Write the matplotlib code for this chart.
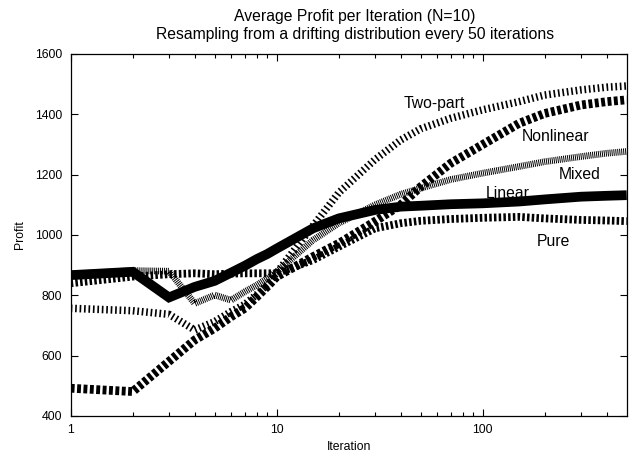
import matplotlib
matplotlib.use("Agg")
import matplotlib.pyplot as plt
from matplotlib.ticker import FixedLocator, NullFormatter, FixedFormatter

plt.rcParams['font.family'] = ['Liberation Sans', 'DejaVu Sans']
plt.rcParams['lines.scale_dashes'] = False

iterations = [1, 2, 3, 4, 5, 6, 7, 8, 9, 10, 15, 20, 30, 40, 50, 70, 100, 150, 200, 300, 400, 500]

linear = [867, 878, 793, 828, 848, 875, 898, 920, 937, 955, 1022, 1055, 1083, 1094, 1097, 1102, 1105, 1111, 1118, 1127, 1130, 1132]
nonlinear = [492, 481, 581, 652, 691, 729, 757, 795, 829, 862, 928, 972, 1045, 1100, 1160, 1238, 1300, 1370, 1403, 1431, 1442, 1448]
two_part = [757, 749, 737, 685, 713, 746, 770, 803, 836, 875, 1030, 1140, 1250, 1315, 1352, 1387, 1415, 1442, 1464, 1481, 1490, 1494]
mixed = [870, 882, 880, 773, 801, 784, 812, 834, 856, 878, 983, 1039, 1100, 1135, 1155, 1184, 1205, 1227, 1243, 1260, 1271, 1277]
pure = [840, 862, 870, 873, 870, 872, 873, 873, 873, 873, 917, 961, 1022, 1039, 1047, 1053, 1057, 1060, 1055, 1050, 1048, 1046]

series_names = ["Pure", "Two-part", "Mixed", "Nonlinear", "Linear"]
label_pos = {
    "Two-part": (58, 1436),
    "Nonlinear": (225, 1326),
    "Mixed": (294, 1199),
    "Linear": (133, 1136),
    "Pure": (220, 978),
}

title_lines = ["Average Profit per Iteration (N=10)",
               "Resampling from a drifting distribution every 50 iterations"]
x_label = "Iteration"
y_label = "Profit"
y_ticks = [400, 600, 800, 1000, 1200, 1400, 1600]
x_major = [1, 10, 100]

W, H = 639, 459
fig = plt.figure(figsize=(W / 100, H / 100), dpi=100)
ax = fig.add_axes([70.7 / W, 1 - 416 / H, (626.7 - 70.7) / W, (416 - 54) / H])

styles = {
    "Pure": dict(lw=5.6, dashes=(1.8, 1.6)),
    "Two-part": dict(lw=5.4, dashes=(1.2, 2.0)),
    "Mixed": dict(lw=4.8, dashes=(0.7, 0.7)),
    "Nonlinear": dict(lw=6.3, dashes=(2.8, 1.8)),
    "Linear": dict(lw=7.0),
}
data = {"Pure": pure, "Two-part": two_part, "Mixed": mixed,
        "Nonlinear": nonlinear, "Linear": linear}

for name in series_names:
    st = styles[name]
    kw = dict(color='black', lw=st['lw'], solid_capstyle='butt', dash_capstyle='butt',
              solid_joinstyle='miter')
    if 'dashes' in st:
        kw['dashes'] = st['dashes']
    ax.plot(iterations, data[name], **kw)

for name, (lx, ly) in label_pos.items():
    ax.text(lx, ly, name, ha='center', va='center', fontsize=11.3, color='black')

ax.set_xscale('log')
ax.set_xlim(1, 500)
ax.set_ylim(400, 1600)
ax.xaxis.set_major_locator(FixedLocator(x_major))
ax.xaxis.set_major_formatter(FixedFormatter([str(v) for v in x_major]))
minor = [m * d for d in (1, 10, 100) for m in range(2, 10) if m * d < 500]
ax.xaxis.set_minor_locator(FixedLocator(minor))
ax.xaxis.set_minor_formatter(NullFormatter())
ax.set_yticks(y_ticks)
ax.set_yticklabels([str(v) for v in y_ticks])
ax.tick_params(which='both', direction='in', top=True, right=True, labelsize=8.8, width=0.8, pad=6)
ax.tick_params(which='major', length=5)
ax.tick_params(which='minor', length=3)
for sp in ax.spines.values():
    sp.set_linewidth(0.9)

fig.text(355 / W, 1 - 17 / H, title_lines[0], ha='center', va='center', fontsize=11.3)
fig.text(355 / W, 1 - 35 / H, title_lines[1], ha='center', va='center', fontsize=11.3)
fig.text(348.7 / W, 1 - 447 / H, x_label, ha='center', va='center', fontsize=8.8)
fig.text(20 / W, 1 - 235 / H, y_label, ha='center', va='center', fontsize=8.8, rotation=90)

fig.savefig("out.png", dpi=100)
